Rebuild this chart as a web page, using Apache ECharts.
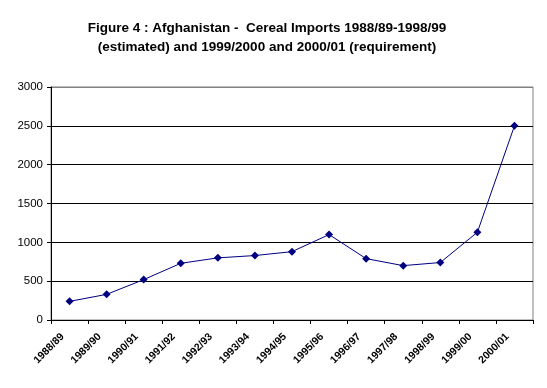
<!DOCTYPE html>
<html><head><meta charset="utf-8">
<script src="https://cdn.jsdelivr.net/npm/echarts@6/dist/echarts.min.js"></script>
<style>html,body{margin:0;padding:0;background:#fff}#c{width:547px;height:388px}</style>
</head><body><div id="c"></div>
<script>
var categories = ["1988/89","1989/90","1990/91","1991/92","1992/93","1993/94","1994/95","1995/96","1996/97","1997/98","1998/99","1999/00","2000/01"];
var imports = [240, 330, 520, 730, 800, 830, 880, 1100, 790, 700, 740, 1130, 2500];
var titleText = "Figure 4 : Afghanistan -  Cereal Imports 1988/89-1998/99\n(estimated) and 1999/2000 and 2000/01 (requirement)";

var chart = echarts.init(document.getElementById('c'), null, {renderer:'canvas'});
chart.setOption({
  animation:false,
  backgroundColor:'#ffffff',
  title:{text:titleText,left:262,textAlign:'center',top:14,textStyle:{fontFamily:'Liberation Sans, Arial',fontSize:13.5,fontWeight:'bold',color:'#000',lineHeight:19}},
  grid:{left:51,top:87,width:482,height:233,show:true,borderColor:'#808080',borderWidth:1,backgroundColor:'transparent'},
  xAxis:{type:'category',data:categories,boundaryGap:true,
    axisLine:{lineStyle:{color:'#000',width:1}},
    axisTick:{show:true,length:4,inside:false,alignWithLabel:false,lineStyle:{color:'#000'}},
    axisLabel:{rotate:45,fontFamily:'Liberation Sans, Arial',fontSize:10.5,fontWeight:'bold',color:'#000',margin:8,interval:0,padding:[0,10,0,0]},
    splitLine:{show:false}},
  yAxis:{type:'value',min:0,max:3000,interval:500,
    axisLine:{show:true,lineStyle:{color:'#000'}},
    axisTick:{show:true,length:4,lineStyle:{color:'#000'}},
    axisLabel:{fontFamily:'Liberation Sans, Arial',fontSize:11.5,color:'#000',margin:8,formatter:function(v){return String(v);}},
    splitLine:{show:true,lineStyle:{color:['#000','#000','#000','#000','#000','#000','#808080'],width:1}}},
  series:[{type:'line',data:imports,symbol:'diamond',symbolSize:8,
    lineStyle:{color:'#000080',width:1},itemStyle:{color:'#000080'}}]
});
</script></body></html>
